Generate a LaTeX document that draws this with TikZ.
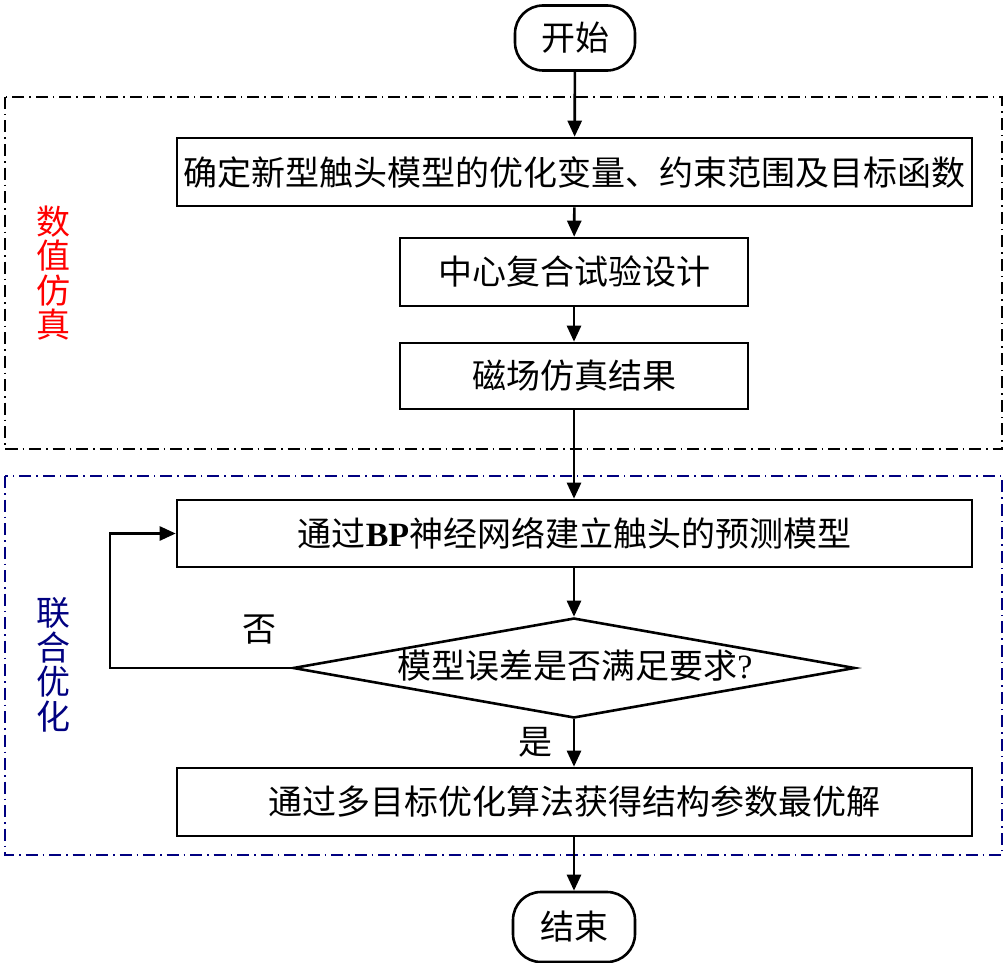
\documentclass[tikz,border=0pt]{standalone}
\usepackage{fontspec}
\setmainfont{Liberation Serif}
\newfontfamily\cjk{Noto Sans CJK SC}
\usetikzlibrary{shapes.geometric,arrows.meta}
\definecolor{navyc}{RGB}{0,0,128}
\definecolor{redc}{RGB}{255,0,0}
\begin{document}
\begin{tikzpicture}[x=1pt,y=-1pt,
  txt/.style={font=\cjk\fontsize{34}{34.5}\selectfont},
  proc/.style={draw, line width=2.6pt, inner sep=0pt, txt},
  term/.style={draw, line width=2.6pt, rounded corners=28pt, inner sep=0pt, txt},
  dec/.style={draw, diamond, line width=2.6pt, inner sep=0pt, aspect=5.62, minimum width=562pt, minimum height=100pt},
  arr/.style={line width=2.6pt, -{Triangle[length=16pt,width=14pt]}},
  frame/.style={line width=2.6pt, dash pattern=on 12pt off 5pt on 1.5pt off 5pt},
  side/.style={txt, align=center}]
\useasboundingbox (0,0) rectangle (1006,963);
% frames
\draw[frame] (5,97) rectangle (1002,449);
\draw[frame, navyc] (5,476) rectangle (1002,855);
% side labels
\node[side, text=redc] (lab1) at (53,273) {数\\值\\仿\\真};
\node[side, text=navyc] (lab2) at (53,665) {联\\合\\优\\化};
% nodes
\node[term, minimum width=120pt, minimum height=65pt] (start) at (575,38) {开始};
\node[proc, minimum width=795pt, minimum height=68pt] (n1) at (574.5,172) {确定新型触头模型的优化变量、约束范围及目标函数};
\node[proc, minimum width=348pt, minimum height=68pt] (n2) at (574,272) {中心复合试验设计};
\node[proc, minimum width=348pt, minimum height=66pt] (n3) at (574,376) {磁场仿真结果};
\node[proc, minimum width=795pt, minimum height=67pt] (n4) at (574.5,533.5) {通过{\fontspec{Liberation Serif}\bfseries BP}神经网络建立触头的预测模型};
\node[dec] (d) at (574,668) {};
\node[txt] (dtext) at (575,666) {模型误差是否满足要求{\fontspec{Liberation Serif}?}};
\node[proc, minimum width=795pt, minimum height=68pt] (n5) at (574.5,802) {通过多目标优化算法获得结构参数最优解};
\node[term, minimum width=122pt, minimum height=70pt] (end) at (574,927) {结束};
% labels
\node[txt] (no) at (259,630) {否};
\node[txt] (yes) at (535,742) {是};
% connectors
\draw[arr] (start) -- (n1);
\draw[arr] (n1) -- (n2);
\draw[arr] (n2) -- (n3);
\draw[arr] (n3) -- (n3 |- n4.north);
\draw[arr] (n4.south -| d.north) -- (d.north);
\draw[arr] (d.south) -- (d.south |- n5.north);
\draw[arr] (n5.south -| end.north) -- (end.north);
\coordinate (lp) at (110,668);
\draw[arr] (d.west) -- (lp) |- (n4.west);
\end{tikzpicture}
\end{document}
